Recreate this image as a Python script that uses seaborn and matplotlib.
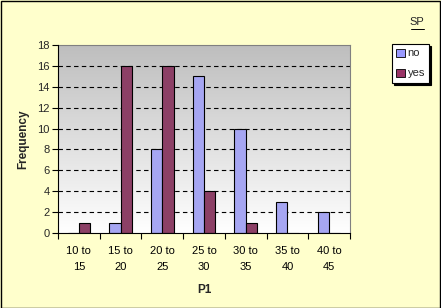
import numpy as np
import pandas as pd
import matplotlib
matplotlib.use("Agg")
import matplotlib.pyplot as plt
import seaborn as sns
from matplotlib.patches import Patch

categories = ["10 to\n15", "15 to\n20", "20 to\n25", "25 to\n30", "30 to\n35", "35 to\n40", "40 to\n45"]
no_vals = [0, 1, 8, 15, 10, 3, 2]
yes_vals = [1, 16, 16, 4, 1, 0, 0]
series = ["no", "yes"]
colors = {"no": "#9999FF", "yes": "#993366"}

df = pd.DataFrame({
    "cat": categories * 2,
    "group": ["no"] * len(categories) + ["yes"] * len(categories),
    "value": no_vals + yes_vals,
})

sns.set_theme(style="white")
plt.rcParams["font.family"] = ["Liberation Sans", "DejaVu Sans"]

fig = plt.figure(figsize=(4.41, 3.08), dpi=100, facecolor="#FFFFCC")
ax = fig.add_axes([58 / 441, 1 - 233 / 308, 292 / 441, 188 / 308])

sns.barplot(data=df, x="cat", y="value", hue="group", palette=colors,
            order=categories, hue_order=series, width=0.54,
            edgecolor="black", linewidth=0.8, ax=ax, legend=False, zorder=3)

ax.set_xlim(-0.5, len(categories) - 0.5)
ax.set_ylim(0, 18)

# gradient background
grad = np.linspace(0, 1, 256).reshape(-1, 1)
ax.imshow(grad, cmap=matplotlib.colors.LinearSegmentedColormap.from_list("g", ["#FFFFFF", "#BEBEBE"]),
          extent=[-0.5, len(categories) - 0.5, 0, 18], aspect="auto", origin="lower", zorder=0)

ax.set_yticks(range(0, 19, 2))
for y in range(2, 18, 2):
    ax.axhline(y, color="black", linestyle=(0, (4, 3)), linewidth=0.8, zorder=1)

ax.set_xticks(range(len(categories)))
ax.set_xticklabels(categories, linespacing=1.75)
ax.set_xticks(np.arange(-0.5, len(categories)), minor=True)
ax.tick_params(axis="x", which="major", length=0, pad=9, labelsize=8, colors="black")
ax.tick_params(axis="x", which="minor", length=4, width=0.8, color="black", direction="out", bottom=True)
ax.tick_params(axis="y", length=4, width=0.8, color="black", direction="out", left=True, labelsize=8, pad=2)

ax.set_xlabel("P1", fontsize=8.5, fontweight="bold", labelpad=9)
ax.set_ylabel("Frequency", fontsize=8.5, fontweight="bold", labelpad=6)

for s in ["top", "right"]:
    ax.spines[s].set_color("#808080")
    ax.spines[s].set_linewidth(0.8)
for s in ["left", "bottom"]:
    ax.spines[s].set_color("black")
    ax.spines[s].set_linewidth(0.8)
    ax.spines[s].set_zorder(5)

handles = [Patch(facecolor=colors[s], edgecolor="black", linewidth=0.6, label=s) for s in series]
leg = fig.legend(handles=handles, loc="upper left", bbox_to_anchor=(392 / 441, 1 - 44 / 308),
                 frameon=True, fancybox=False,
                 shadow={"color": "black", "alpha": 1.0, "ox": 1.5, "oy": -1.5},
                 fontsize=8, handlelength=0.75, handleheight=0.75, handletextpad=0.25,
                 borderpad=0.4, labelspacing=0.9, borderaxespad=0)
leg.get_frame().set_edgecolor("black")
leg.get_frame().set_linewidth(0.8)
leg.get_frame().set_facecolor("white")

fig.text(417 / 441, 1 - 22 / 308, "SP", fontsize=8, ha="center", va="center")
fig.add_artist(plt.Line2D([411 / 441, 424 / 441], [1 - 28.5 / 308, 1 - 28.5 / 308],
                          color="black", linewidth=0.7, transform=fig.transFigure))

fig.add_artist(matplotlib.patches.Rectangle((0.5 / 441, 0.5 / 308), 439.5 / 441, 306.5 / 308,
                                            fill=False, edgecolor="black", linewidth=1,
                                            transform=fig.transFigure))

fig.savefig("out.png", dpi=100, facecolor=fig.get_facecolor())
